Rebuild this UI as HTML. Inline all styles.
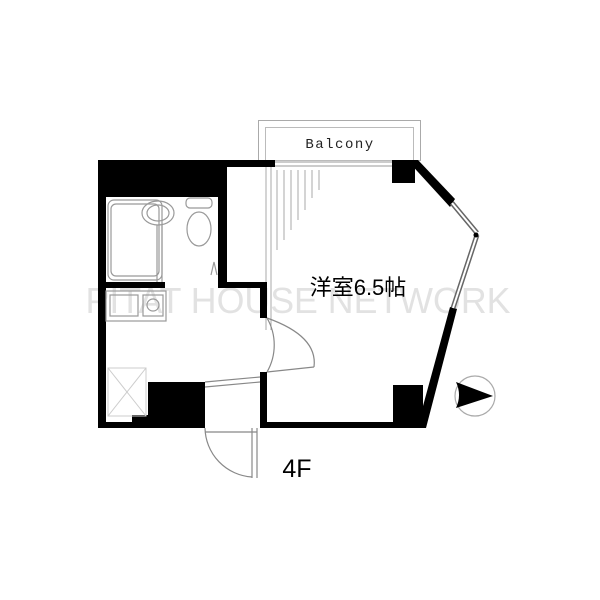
<!DOCTYPE html>
<html><head><meta charset="utf-8"><style>html,body{margin:0;padding:0;background:#fff}svg{display:block}</style></head>
<body>
<svg width="600" height="600" viewBox="0 0 600 600" xmlns="http://www.w3.org/2000/svg">
<rect width="600" height="600" fill="#fff"/>
<text x="298" y="313" text-anchor="middle" font-family="Liberation Sans, sans-serif" font-size="36" fill="#e2e2e2" textLength="425" lengthAdjust="spacingAndGlyphs">PITAT HOUSE NETWORK</text>
<rect x="258.5" y="120.5" width="162" height="40" fill="none" stroke="#aaa" stroke-width="1"/>
<rect x="265.5" y="127.5" width="148" height="33" fill="none" stroke="#bbb" stroke-width="1"/>
<text x="340" y="148" text-anchor="middle" font-family="Liberation Mono, monospace" font-size="14" fill="#222" letter-spacing="1.5">Balcony</text>
<line x1="275" y1="162" x2="392" y2="162" stroke="#999" stroke-width="1"/>
<line x1="275" y1="166" x2="392" y2="166" stroke="#999" stroke-width="1"/>
<g stroke="#aaa" stroke-width="1">
<line x1="266" y1="166" x2="266" y2="330"/><line x1="271" y1="166" x2="271" y2="330"/>
<line x1="277" y1="170" x2="277" y2="250"/><line x1="284" y1="170" x2="284" y2="240"/><line x1="291" y1="170" x2="291" y2="230"/>
<line x1="298" y1="170" x2="298" y2="220"/><line x1="305" y1="170" x2="305" y2="210"/><line x1="312" y1="170" x2="312" y2="198"/><line x1="319" y1="170" x2="319" y2="190"/>
</g>
<g fill="#000">
<rect x="98" y="160" width="177" height="7"/>
<rect x="98" y="160" width="127" height="37"/>
<rect x="98" y="160" width="8" height="268"/>
<rect x="218" y="160" width="9" height="128"/>
<rect x="218" y="282" width="49" height="6"/>
<rect x="260" y="282" width="7" height="36"/>
<rect x="260" y="372" width="7" height="56"/>
<rect x="98" y="282" width="67" height="6"/>
<rect x="98" y="422" width="107" height="6"/>
<rect x="148" y="382" width="57" height="46"/>
<rect x="132" y="415" width="20" height="13"/>
<rect x="260" y="422" width="163" height="6"/>
<rect x="392" y="160" width="23" height="23"/>
<rect x="393" y="385" width="30" height="43"/>
<polygon points="407,160 418,160 455,199 450,207"/>
<polygon points="450,307 457,309 426,428 417,428"/>
</g>
<line x1="452" y1="203" x2="477" y2="233" stroke="#666" stroke-width="5"/>
<line x1="452" y1="203" x2="477" y2="233" stroke="#fff" stroke-width="2"/>
<line x1="477" y1="235" x2="453" y2="308" stroke="#666" stroke-width="5"/>
<line x1="477" y1="235" x2="453" y2="308" stroke="#fff" stroke-width="2"/>
<circle cx="476" cy="235" r="2.5" fill="#000"/>
<g fill="none" stroke="#999" stroke-width="1.2">
<rect x="111" y="204" width="48" height="72" rx="5"/>
<rect x="108" y="200" width="54" height="80" rx="6"/>
<ellipse cx="158" cy="213" rx="16" ry="12"/>
<ellipse cx="158" cy="213" rx="11" ry="8"/>
<line x1="157" y1="225" x2="157" y2="282"/><line x1="162" y1="225" x2="162" y2="282"/>
<ellipse cx="199" cy="229" rx="12" ry="17"/>
<rect x="186" y="198" width="26" height="10" rx="4"/>
<path d="M211 275 L214 262 L217 275"/>
<rect x="106" y="291" width="60" height="30"/>
<rect x="110" y="295" width="28" height="21"/>
<rect x="143" y="295" width="20" height="21"/>
<circle cx="153" cy="305" r="6"/>
</g>
<g fill="none" stroke="#ccc" stroke-width="1">
<rect x="108" y="368" width="38" height="48"/>
<line x1="108" y1="368" x2="146" y2="416"/><line x1="146" y1="368" x2="108" y2="416"/>
</g>
<g fill="none" stroke="#888" stroke-width="1.2">
<path d="M267 318 A54 54 0 0 1 267 372"/>
<path d="M267 318 Q318 336 314 367"/>
<line x1="267" y1="372" x2="314" y2="367"/>
<line x1="205" y1="382" x2="260" y2="377"/>
<line x1="205" y1="387" x2="260" y2="382"/>
<path d="M205 428 A50 50 0 0 0 252 477"/>
<line x1="252" y1="428" x2="252" y2="478"/>
<line x1="257" y1="428" x2="257" y2="478"/>
<line x1="205" y1="432" x2="257" y2="432"/>
</g>
<circle cx="475" cy="396" r="20" fill="none" stroke="#aaa" stroke-width="1.2"/>
<path d="M456 382 L493 396 L456 408 Q462 395 456 382 Z" fill="#000"/>
<text x="358" y="295" text-anchor="middle" font-family="Liberation Sans, 'Noto Sans CJK JP', sans-serif" font-size="22" fill="#000">洋室6.5帖</text>
<text x="297" y="477" text-anchor="middle" font-family="Liberation Sans, sans-serif" font-size="25" fill="#000">4F</text>
</svg>
</body></html>
